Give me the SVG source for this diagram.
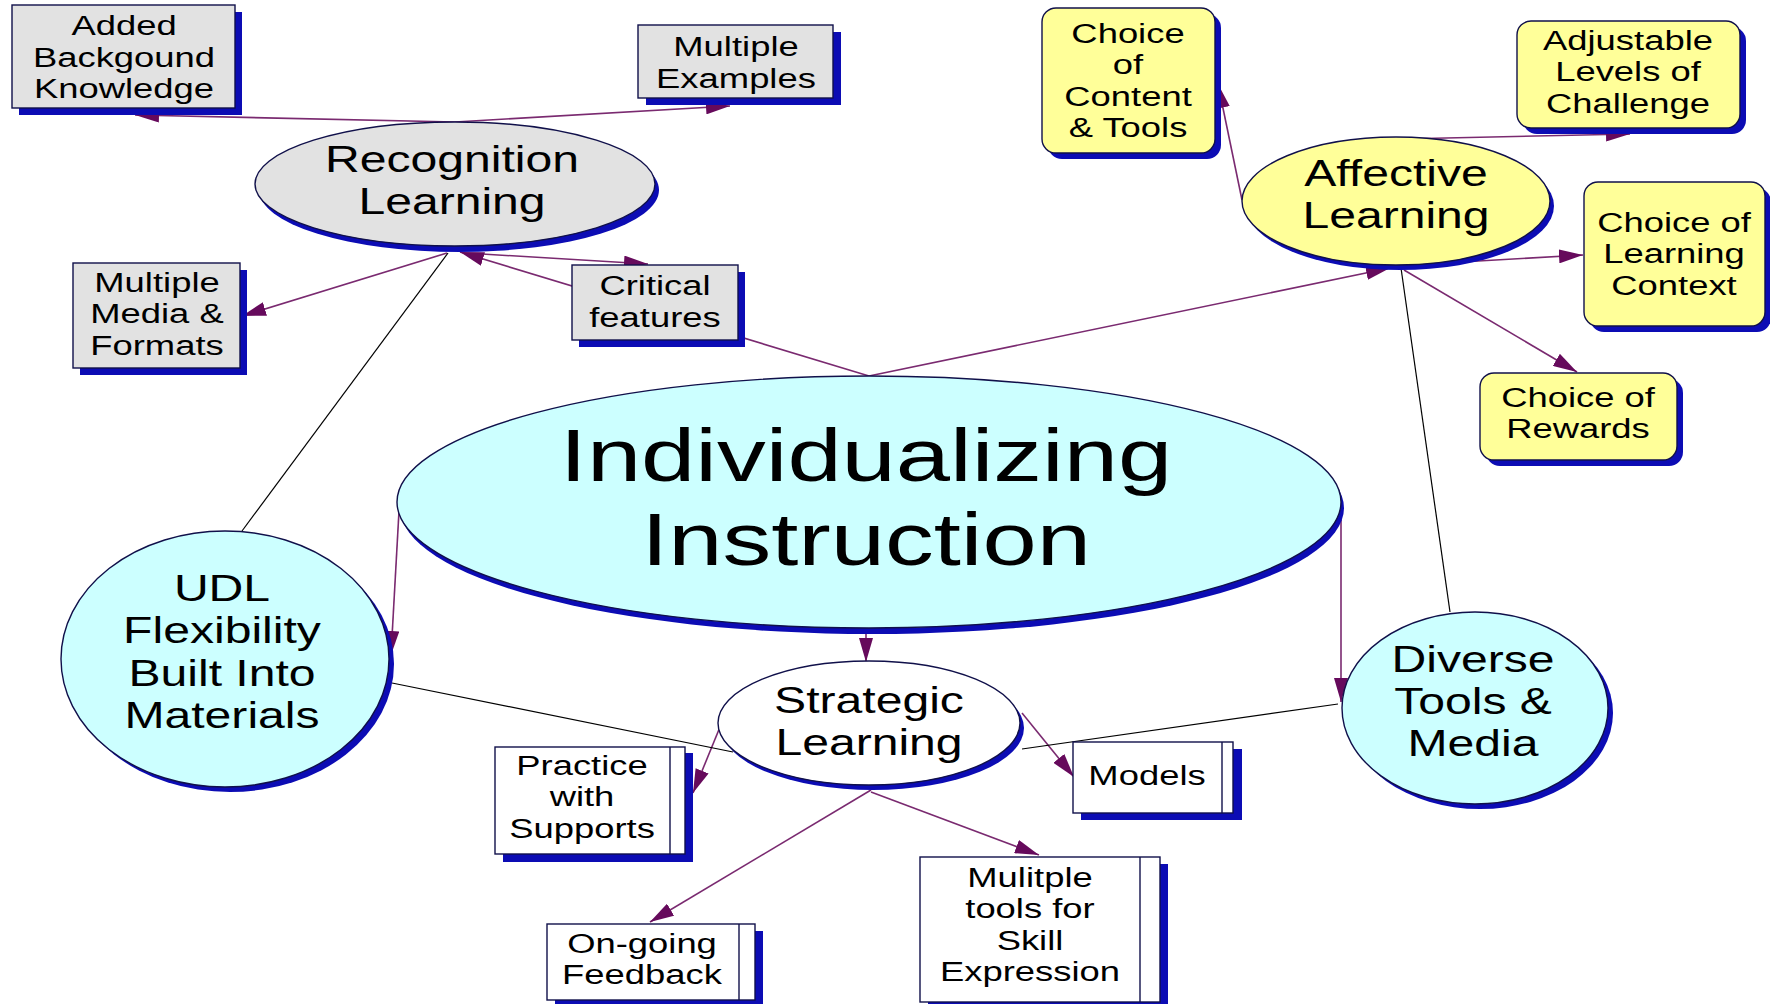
<svg xmlns="http://www.w3.org/2000/svg" width="1770" height="1004" viewBox="0 0 1770 1004">
<defs>
<style>
.t{font-family:"Liberation Sans",Arial,sans-serif;font-size:28px;fill:#000;text-anchor:middle}
.tb{font-family:"Liberation Sans",Arial,sans-serif;font-size:37px;fill:#000;text-anchor:middle}
.th{font-family:"Liberation Sans",Arial,sans-serif;font-size:75px;fill:#000;text-anchor:middle}
.sh{fill:#0c0cb4}
.edge{stroke:#10104a;stroke-width:1.4}
.gray{fill:#e2e2e2}
.cyan{fill:#ccffff}
.yel{fill:#ffff99}
.wht{fill:#ffffff}
.arr{stroke:#7a2a70;stroke-width:1.6;fill:none;marker-end:url(#ah)}
.ln{stroke:#000;stroke-width:1.2;fill:none}
</style>
<marker id="ah" viewBox="0 0 24 14" refX="24" refY="7" markerWidth="24" markerHeight="14" markerUnits="userSpaceOnUse" orient="auto">
<path d="M0,0 L24,7 L0,14 z" fill="#660a5c"/>
</marker>
</defs>
<rect width="1770" height="1004" fill="#ffffff"/>

<g id="connectors">
<path class="arr" d="M455,122 L135,115"/>
<path class="arr" d="M455,122 L730,106"/>
<path class="arr" d="M447,253 L242,316"/>
<path class="arr" d="M482,254 L648,264"/>
<path class="arr" d="M869,376 L460,252"/>
<path class="arr" d="M869,376 L1390,268"/>
<path class="arr" d="M399,511 L391,655"/>
<path class="arr" d="M866,630 L866,662"/>
<path class="arr" d="M1341,520 L1341,702"/>
<path class="arr" d="M1242,200 L1218,84"/>
<path class="arr" d="M1400,139 L1630,134"/>
<path class="arr" d="M1461,262 L1583,255"/>
<path class="arr" d="M1404,270 L1577,372"/>
<path class="arr" d="M720,727 L693,793"/>
<path class="arr" d="M1022,713 L1074,777"/>
<path class="arr" d="M871,790 L650,922"/>
<path class="arr" d="M871,792 L1039,855"/>
<path class="ln" d="M448,253 L242,531"/>
<path class="ln" d="M1401,268 L1450,612"/>
<path class="ln" d="M392,683 L733,752"/>
<path class="ln" d="M1338,704 L1022,749"/>
</g>

<g id="added-background">
<rect class="sh" x="19" y="12" width="223" height="103"/>
<rect class="gray edge" x="12" y="5" width="223" height="103"/>
<text class="t" transform="translate(124 0) scale(1.3 1)"><tspan x="0" y="35.5">Added</tspan><tspan x="0" y="67">Backgound</tspan><tspan x="0" y="98.5">Knowledge</tspan></text>
</g>

<g id="multiple-examples">
<rect class="sh" x="646" y="32" width="195" height="73"/>
<rect class="gray edge" x="638" y="25" width="195" height="73"/>
<text class="t" transform="translate(736 0) scale(1.3 1)"><tspan x="0" y="56.5">Multiple</tspan><tspan x="0" y="88">Examples</tspan></text>
</g>

<g id="recognition-learning">
<ellipse class="sh" cx="459" cy="190" rx="200" ry="62"/>
<ellipse class="gray edge" cx="455" cy="184" rx="200" ry="62"/>
<text class="tb" transform="translate(452 0) scale(1.3 1)"><tspan x="0" y="172">Recognition</tspan><tspan x="0" y="214">Learning</tspan></text>
</g>

<g id="multiple-media">
<rect class="sh" x="80" y="270" width="167" height="105"/>
<rect class="gray edge" x="73" y="263" width="167" height="105"/>
<text class="t" transform="translate(157 0) scale(1.3 1)"><tspan x="0" y="292">Multiple</tspan><tspan x="0" y="323.5">Media &amp;</tspan><tspan x="0" y="355">Formats</tspan></text>
</g>

<g id="critical-features">
<rect class="sh" x="579" y="272" width="166" height="75"/>
<rect class="gray edge" x="572" y="265" width="166" height="75"/>
<text class="t" transform="translate(655 0) scale(1.3 1)"><tspan x="0" y="295.5">Critical</tspan><tspan x="0" y="327">features</tspan></text>
</g>

<g id="individualizing-instruction">
<ellipse class="sh" cx="872" cy="508" rx="472" ry="126"/>
<ellipse class="cyan edge" cx="869" cy="502" rx="472" ry="126"/>
<text class="th" transform="translate(866 0) scale(1.3 1)"><tspan x="0" y="481">Individualizing</tspan><tspan x="0" y="565">Instruction</tspan></text>
</g>

<g id="affective-learning">
<ellipse class="sh" cx="1400" cy="206" rx="154" ry="64"/>
<ellipse class="yel edge" cx="1396" cy="201" rx="154" ry="64"/>
<text class="tb" transform="translate(1396 0) scale(1.3 1)"><tspan x="0" y="186.5">Affective</tspan><tspan x="0" y="228.5">Learning</tspan></text>
</g>

<g id="choice-content">
<rect class="sh" x="1048" y="14" width="173" height="145" rx="14"/>
<rect class="yel edge" x="1042" y="8" width="173" height="145" rx="14"/>
<text class="t" transform="translate(1128 0) scale(1.3 1)"><tspan x="0" y="43">Choice</tspan><tspan x="0" y="74.5">of</tspan><tspan x="0" y="106">Content</tspan><tspan x="0" y="137.5">&amp; Tools</tspan></text>
</g>

<g id="adjustable-levels">
<rect class="sh" x="1523" y="27" width="223" height="107" rx="14"/>
<rect class="yel edge" x="1517" y="21" width="223" height="107" rx="14"/>
<text class="t" transform="translate(1628 0) scale(1.3 1)"><tspan x="0" y="50">Adjustable</tspan><tspan x="0" y="81.5">Levels of</tspan><tspan x="0" y="113">Challenge</tspan></text>
</g>

<g id="choice-context">
<rect class="sh" x="1590" y="188" width="181" height="144" rx="14"/>
<rect class="yel edge" x="1584" y="182" width="181" height="144" rx="14"/>
<text class="t" transform="translate(1674 0) scale(1.3 1)"><tspan x="0" y="232">Choice of</tspan><tspan x="0" y="263.5">Learning</tspan><tspan x="0" y="295">Context</tspan></text>
</g>

<g id="choice-rewards">
<rect class="sh" x="1486" y="379" width="197" height="87" rx="14"/>
<rect class="yel edge" x="1480" y="373" width="197" height="87" rx="14"/>
<text class="t" transform="translate(1578 0) scale(1.3 1)"><tspan x="0" y="407">Choice of</tspan><tspan x="0" y="438.5">Rewards</tspan></text>
</g>

<g id="udl-flexibility">
<ellipse class="sh" cx="230" cy="664" rx="164" ry="128"/>
<ellipse class="cyan edge" cx="225" cy="659" rx="164" ry="128"/>
<text class="tb" transform="translate(222 0) scale(1.3 1)"><tspan x="0" y="601">UDL</tspan><tspan x="0" y="643.5">Flexibility</tspan><tspan x="0" y="686">Built Into</tspan><tspan x="0" y="728.5">Materials</tspan></text>
</g>

<g id="diverse-tools">
<ellipse class="sh" cx="1480" cy="713" rx="133" ry="96"/>
<ellipse class="cyan edge" cx="1475" cy="708" rx="133" ry="96"/>
<text class="tb" transform="translate(1473 0) scale(1.3 1)"><tspan x="0" y="672">Diverse</tspan><tspan x="0" y="714">Tools &amp;</tspan><tspan x="0" y="756">Media</tspan></text>
</g>

<g id="strategic-learning">
<ellipse class="sh" cx="873" cy="728" rx="151" ry="62"/>
<ellipse class="wht edge" cx="869" cy="723" rx="151" ry="62"/>
<text class="tb" transform="translate(869 0) scale(1.3 1)"><tspan x="0" y="713.5">Strategic</tspan><tspan x="0" y="755.5">Learning</tspan></text>
</g>

<g id="practice-supports">
<rect class="sh" x="503" y="753" width="190" height="109"/>
<rect class="wht edge" x="495" y="747" width="190" height="107"/>
<line class="edge" x1="670" y1="747" x2="670" y2="854"/>
<text class="t" transform="translate(582 0) scale(1.3 1)"><tspan x="0" y="775">Practice</tspan><tspan x="0" y="806.5">with</tspan><tspan x="0" y="838">Supports</tspan></text>
</g>

<g id="models">
<rect class="sh" x="1081" y="749" width="161" height="71"/>
<rect class="wht edge" x="1073" y="742" width="160" height="71"/>
<line class="edge" x1="1222" y1="742" x2="1222" y2="813"/>
<text class="t" transform="translate(1147 0) scale(1.3 1)"><tspan x="0" y="785">Models</tspan></text>
</g>

<g id="ongoing-feedback">
<rect class="sh" x="555" y="931" width="208" height="80"/>
<rect class="wht edge" x="547" y="924" width="208" height="76"/>
<line class="edge" x1="739" y1="924" x2="739" y2="1000"/>
<text class="t" transform="translate(642 0) scale(1.3 1)"><tspan x="0" y="953">On-going</tspan><tspan x="0" y="984.5">Feedback</tspan></text>
</g>

<g id="multiple-tools">
<rect class="sh" x="928" y="864" width="240" height="150"/>
<rect class="wht edge" x="920" y="857" width="240" height="145"/>
<line class="edge" x1="1140" y1="857" x2="1140" y2="1002"/>
<text class="t" transform="translate(1030 0) scale(1.3 1)"><tspan x="0" y="887">Mulitple</tspan><tspan x="0" y="918.5">tools for</tspan><tspan x="0" y="950">Skill</tspan><tspan x="0" y="981.5">Expression</tspan></text>
</g>
</svg>
